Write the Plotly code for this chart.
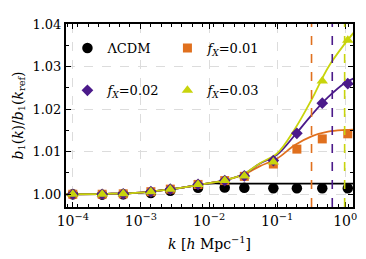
import numpy as np
import plotly.graph_objects as go

# ---- data ----
k_pts = [1.0e-4, 2.7e-4, 5.5e-4, 1.4e-3, 2.7e-3, 6.9e-3, 0.017, 0.033, 0.088, 0.195, 0.46, 1.09]
lcdm_pts = [1.0000, 0.9999, 1.0000, 1.0003, 1.0008, 1.0015, 1.0016, 1.0015, 1.0014, 1.0014, 1.0014, 1.0014]
fx01_pts = [1.0000, 1.0000, 1.0001, 1.0006, 1.0012, 1.0023, 1.0032, 1.0042, 1.0071, 1.0106, 1.0130, 1.0142]
fx02_pts = [1.0000, 1.0000, 1.0001, 1.0006, 1.0012, 1.0023, 1.0032, 1.0043, 1.0079, 1.0143, 1.0214, 1.0260]
fx03_pts = [1.0000, 1.0000, 1.0001, 1.0006, 1.0012, 1.0023, 1.0032, 1.0043, 1.0076, None, 1.0266, 1.0362]

k_line = [8.0e-5, 3.2e-4, 1.0e-3, 3.2e-3, 1.0e-2, 1.8e-2, 3.2e-2, 5.6e-2, 0.10, 0.18, 0.32, 0.56, 1.0, 1.32]
lcdm_line = [1.0000, 1.0001, 1.0004, 1.0013, 1.0025, 1.0025, 1.0025, 1.0025, 1.0025, 1.0025, 1.0025, 1.0025, 1.0025, 1.0025]
fx01_line = [1.0000, 1.0001, 1.0004, 1.0013, 1.0026, 1.0034, 1.0046, 1.0066, 1.0084, 1.0115, 1.0136, 1.0147, 1.0151, 1.0152]
fx02_line = [1.0000, 1.0001, 1.0004, 1.0013, 1.0026, 1.0034, 1.0047, 1.0072, 1.0093, 1.0138, 1.0186, 1.0228, 1.0262, 1.0272]
fx03_line = [1.0000, 1.0001, 1.0004, 1.0013, 1.0026, 1.0034, 1.0047, 1.0073, 1.0096, 1.0152, 1.0222, 1.0298, 1.0355, 1.0379]

k_cut = [0.32, 0.645, 0.98]

names = ["ΛCDM", "<i>f</i><sub><i>X</i></sub>=0.01", "<i>f</i><sub><i>X</i></sub>=0.02", "<i>f</i><sub><i>X</i></sub>=0.03"]
colors = ["#000000", "#E0701E", "#4B1A8A", "#C8D40C"]
symbols = ["circle", "square", "diamond", "triangle-up"]
sizes = [10.5, 9, 9, 10]
legends = ["legend", "legend", "legend2", "legend2"]

FONT = "DejaVu Serif"
fig = go.Figure()

lines = [lcdm_line, fx01_line, fx02_line, fx03_line]
pts = [lcdm_pts, fx01_pts, fx02_pts, fx03_pts]

for i in range(4):
    fig.add_trace(go.Scatter(x=k_line, y=lines[i], mode="lines", line=dict(color=colors[i], width=1.8, shape="spline"),
                             showlegend=False, hoverinfo="skip"))
for i in [0, 1, 2, 3]:
    fig.add_trace(go.Scatter(x=k_pts, y=pts[i], mode="markers", name=names[i], legend=legends[i],
                             marker=dict(color=colors[i], symbol=symbols[i], size=sizes[i], line=dict(width=0))))

for kc, c in zip(k_cut, colors[1:]):
    fig.add_shape(type="line", xref="x", yref="paper", x0=kc, x1=kc, y0=0, y1=1,
                  line=dict(color=c, width=1.6, dash="dash"))

axis_common = dict(showline=True, linecolor="black", linewidth=2, mirror="allticks", ticks="inside",
                   tickcolor="black", ticklen=5, tickwidth=1.2, showgrid=True, gridcolor="#dcdcdc",
                   griddash="dash", gridwidth=1, zeroline=False)

minor_x = list(10 ** np.arange(-4.08, 0.12, 0.153))
fig.update_xaxes(type="log", range=[-4.1, 0.114],
                 tickvals=[1e-4, 1e-3, 1e-2, 1e-1, 1],
                 ticktext=["10<sup>−4</sup>", "10<sup>−3</sup>", "10<sup>−2</sup>", "10<sup>−1</sup>", "10<sup>0</sup>"],
                 tickfont=dict(family=FONT, size=14, color="black"),
                 minor=dict(tickvals=minor_x, ticks="inside", ticklen=3, tickcolor="black", showgrid=False),
                 title=dict(text="<i>k</i> [<i>h</i> Mpc<sup>−1</sup>]", font=dict(family=FONT, size=14, color="black"), standoff=11),
                 **axis_common)
fig.update_yaxes(range=[0.997, 1.04], tickvals=[1.00, 1.01, 1.02, 1.03, 1.04],
                 ticktext=["1.00", "1.01", "1.02", "1.03", "1.04"],
                 tickfont=dict(family=FONT, size=13, color="black"),
                 minor=dict(dtick=0.005, ticks="inside", ticklen=3, tickcolor="black", showgrid=False),
                 title=dict(text="<i>b</i><sub>1</sub>(<i>k</i>)/<i>b</i><sub>1</sub>(<i>k</i><sub>ref</sub>)",
                            font=dict(family=FONT, size=14, color="black"), standoff=6),
                 **axis_common)

leg_common = dict(orientation="h", bgcolor="rgba(0,0,0,0)", font=dict(family=FONT, size=13, color="black"),
                  entrywidth=55, entrywidthmode="pixels", xanchor="left", yanchor="middle", x=0.005)
# page body has an 8px default margin: the figure is shrunk by 8px so the plot area lands where the reference's does
fig.update_layout(
    width=358, height=251,
    margin=dict(l=54, r=9, t=16, b=45),
    paper_bgcolor="white", plot_bgcolor="white",
    legend=dict(y=(206 - 48) / 182, **leg_common),
    legend2=dict(y=(206 - 90) / 182, **leg_common),
    font=dict(family=FONT, color="black"),
)

fig.write_html("out.html")
